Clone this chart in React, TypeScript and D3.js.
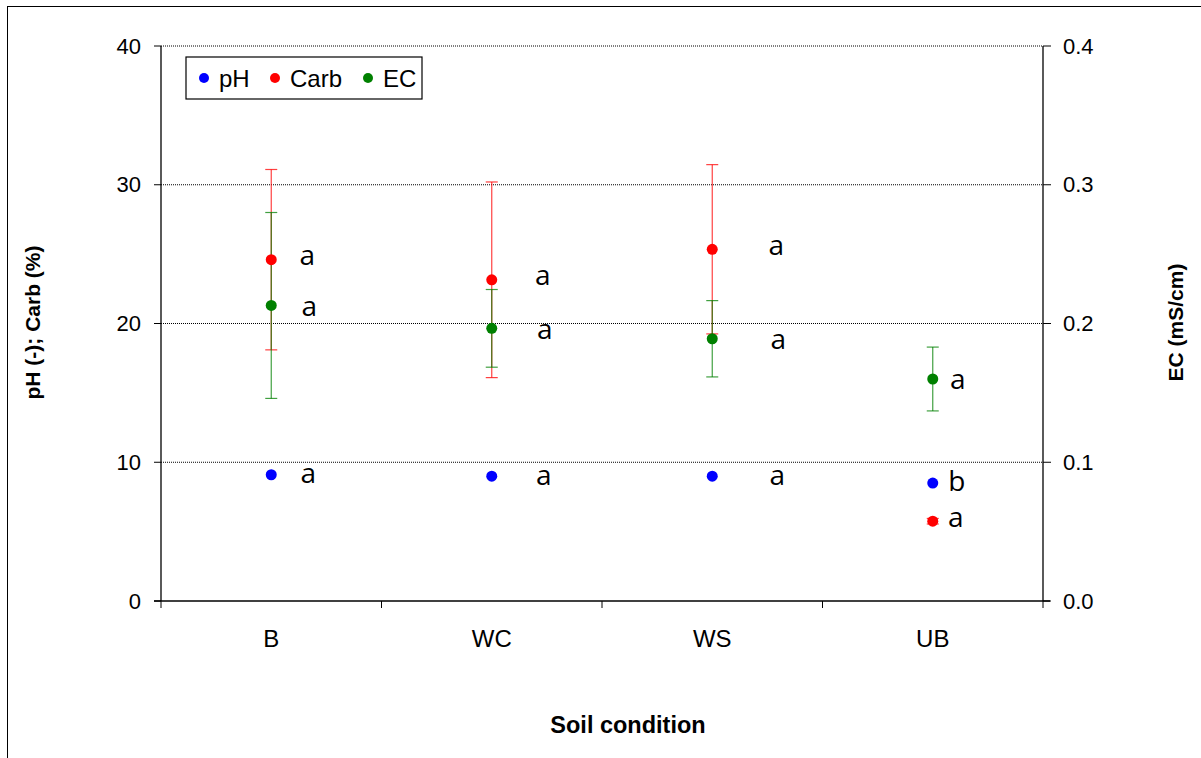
import { useMemo } from "react";
import * as d3 from "d3";

const categories = ["B", "WC", "WS", "UB"];
const phValues = [9.1, 9.0, 9.0, 8.5];
const carbValues = [24.6, 23.15, 25.35, 5.75];
const carbErr = [6.5, 7.05, 6.1, 0.2];
const ecValues = [0.213, 0.1965, 0.189, 0.16];
const ecErr = [0.067, 0.028, 0.0275, 0.023];
const phLetters = ["a", "a", "a", "b"];
const carbLetters = ["a", "a", "a", "a"];
const ecLetters = ["a", "a", "a", "a"];
const leftTicks = [0, 10, 20, 30, 40];
const rightTicks = [0, 0.1, 0.2, 0.3, 0.4];
const legendItems = ["pH", "Carb", "EC"];

// label offset from the point, per category (data labels were placed by hand)
const LABEL_DX = [37, 52, 65, 24];

const MARGIN = { top: 46, right: 158, bottom: 157, left: 161 };
const W = 1201;
const H = 758;
const COLORS = { pH: "#0000ff", Carb: "#ff0000", EC: "#008000" };

const App = () => {
  const boundsWidth = W - MARGIN.left - MARGIN.right;
  const boundsHeight = H - MARGIN.top - MARGIN.bottom;

  const xScale = useMemo(
    () => d3.scaleBand().domain(categories).range([0, boundsWidth]),
    [boundsWidth]
  );
  const yLeft = d3.scaleLinear().domain([0, 40]).range([boundsHeight, 0]);
  const yRight = d3.scaleLinear().domain([0, 0.4]).range([boundsHeight, 0]);

  const cx = (c: string) => (xScale(c) ?? 0) + xScale.bandwidth() / 2;

  const errBar = (key: string, x: number, y0: number, y1: number, color: string) => (
    <g key={key} stroke={color} strokeWidth={1.2} strokeOpacity={0.75}>
      <line x1={x} x2={x} y1={y0} y2={y1} />
      <line x1={x - 6} x2={x + 6} y1={y0} y2={y0} />
      <line x1={x - 6} x2={x + 6} y1={y1} y2={y1} />
    </g>
  );

  const labelFont = { fontFamily: "'Open Sans', 'Noto Sans', sans-serif", fontSize: 28 };

  return (
    <svg
      width={W}
      height={H}
      style={{ position: "absolute", left: 0, top: 0, background: "#fff" }}
    >
      <rect x={7.5} y={6.5} width={1200} height={760} fill="none" stroke="#000" strokeWidth={1} />
      <g transform={`translate(${MARGIN.left},${MARGIN.top})`} fontFamily="'Liberation Sans', Arial, sans-serif">
        {/* gridlines */}
        {leftTicks.filter((t) => t > 0).map((t) => (
          <line key={"g" + t} x1={0} x2={boundsWidth} y1={yLeft(t)} y2={yLeft(t)}
            stroke="#000" strokeWidth={1} strokeDasharray="1,1" />
        ))}
        {/* axes */}
        <line x1={0} x2={0} y1={0} y2={boundsHeight} stroke="#000" strokeWidth={1.3} />
        <line x1={boundsWidth} x2={boundsWidth} y1={0} y2={boundsHeight} stroke="#000" strokeWidth={1.3} />
        <line x1={-7} x2={boundsWidth + 7} y1={boundsHeight} y2={boundsHeight} stroke="#000" strokeWidth={1.3} />
        {leftTicks.map((t) => (
          <g key={"l" + t} transform={`translate(0,${yLeft(t)})`}>
            <line x1={-7} x2={0} stroke="#000" />
            <text x={-20} dy="0.35em" textAnchor="end" fontSize={22}>{t}</text>
          </g>
        ))}
        {rightTicks.map((t) => (
          <g key={"r" + t} transform={`translate(${boundsWidth},${yRight(t)})`}>
            <line x1={0} x2={8} stroke="#000" />
            <text x={20} dy="0.35em" textAnchor="start" fontSize={22}>{t.toFixed(1)}</text>
          </g>
        ))}
        {categories.map((c, i) => (
          <line key={"xt" + i} x1={xScale(c)} x2={xScale(c)} y1={boundsHeight} y2={boundsHeight + 7} stroke="#000" />
        ))}
        <line x1={boundsWidth} x2={boundsWidth} y1={boundsHeight} y2={boundsHeight + 7} stroke="#000" />
        {categories.map((c) => (
          <text key={"xl" + c} x={cx(c)} y={boundsHeight + 46} textAnchor="middle" fontSize={24}>{c}</text>
        ))}
        {/* axis titles */}
        <text x={boundsWidth / 2 + 26} y={boundsHeight + 132} textAnchor="middle"
          fontSize={23.5} fontWeight="bold">Soil condition</text>
        <text transform={`translate(${-121},${boundsHeight / 2 - 1}) rotate(-90)`} textAnchor="middle"
          fontSize={21} fontWeight="bold">pH (-); Carb (%)</text>
        <text transform={`translate(${boundsWidth + 140},${boundsHeight / 2 - 1}) rotate(-90)`} textAnchor="middle"
          fontSize={21} fontWeight="bold">EC (mS/cm)</text>

        {/* error bars */}
        {categories.map((c, i) =>
          errBar("ce" + i, cx(c), yLeft(carbValues[i] + carbErr[i]), yLeft(carbValues[i] - carbErr[i]), COLORS.Carb)
        )}
        {categories.map((c, i) =>
          errBar("ee" + i, cx(c), yRight(ecValues[i] + ecErr[i]), yRight(ecValues[i] - ecErr[i]), COLORS.EC)
        )}

        {/* points */}
        {categories.map((c, i) => (
          <g key={"p" + i}>
            <circle cx={cx(c)} cy={yLeft(phValues[i])} r={5.5} fill={COLORS.pH} />
            <circle cx={cx(c)} cy={yLeft(carbValues[i])} r={5.5} fill={COLORS.Carb} />
            <circle cx={cx(c)} cy={yRight(ecValues[i])} r={5.5} fill={COLORS.EC} />
          </g>
        ))}

        {/* significance letters */}
        {categories.map((c, i) => (
          <g key={"lt" + i} {...labelFont}>
            <text x={cx(c) + LABEL_DX[i]} y={yLeft(phValues[i])} dy="0.3em" textAnchor="middle">{phLetters[i]}</text>
            <text x={cx(c) + LABEL_DX[i] - 1} y={yLeft(carbValues[i]) - 3} dy="0.3em" textAnchor="middle">{carbLetters[i]}</text>
            <text x={cx(c) + LABEL_DX[i] + 1} y={yRight(ecValues[i]) + 2} dy="0.3em" textAnchor="middle">{ecLetters[i]}</text>
          </g>
        ))}

        {/* legend */}
        <g transform="translate(25,11)">
          <rect x={0} y={0} width={236} height={42} fill="#fff" stroke="#000" strokeWidth={1.2} />
          {legendItems.map((k, i) => {
            const offs = [18, 89, 182];
            return (
              <g key={k} transform={`translate(${offs[i]},21)`}>
                <circle cx={0} cy={0} r={5} fill={COLORS[k as keyof typeof COLORS]} />
                <text x={15} dy="0.36em" fontSize={24}>{k}</text>
              </g>
            );
          })}
        </g>
      </g>
    </svg>
  );
};

export default App;
